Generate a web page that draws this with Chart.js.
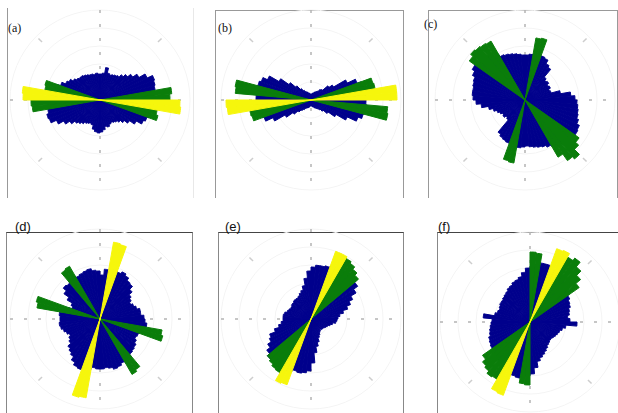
<!DOCTYPE html>
<html>
<head>
<meta charset="utf-8">
<script src="https://cdn.jsdelivr.net/npm/chart.js@4.4.1/dist/chart.umd.min.js"></script>
<style>
  body { margin: 0; width: 618px; height: 413px; background: #fff; position: relative; overflow: hidden; }
  .frame { position: absolute; box-sizing: border-box; }
  .panel { position: absolute; }
  .tag { position: absolute; color: #111; line-height: 1; }
  .tag.top { font: 12px "Liberation Serif", serif; }
  .tag.bottom { font: 13px "Liberation Sans", Arial, sans-serif; }
</style>
</head>
<body>

<!-- panel frames (only the visible edges) -->
<div class="frame" style="left:7px;top:8px;width:187px;height:190px;border-left:1px solid #999;border-right:1px solid #e8e8e8;"></div>
<div class="frame" style="left:215px;top:10px;width:189px;height:188px;border:1px solid #999;border-bottom:none;"></div>
<div class="frame" style="left:428px;top:10px;width:190px;height:188px;border:1px solid #999;border-bottom:none;"></div>
<div class="frame" style="left:6px;top:232px;width:187px;height:190px;border:1px solid #888;border-top-color:#444;border-bottom:none;"></div>
<div class="frame" style="left:218px;top:232px;width:186px;height:190px;border:1px solid #888;border-top-color:#444;border-bottom:none;"></div>
<div class="frame" style="left:437px;top:232px;width:190px;height:190px;border:1px solid #888;border-top-color:#444;border-bottom:none;"></div>

<div class="tag top" style="left:8px;top:21px;">(a)</div>
<div class="tag top" style="left:218px;top:21px;">(b)</div>
<div class="tag top" style="left:424px;top:17px;">(c)</div>
<div class="tag bottom" style="left:15px;top:219px;">(d)</div>
<div class="tag bottom" style="left:225px;top:219px;">(e)</div>
<div class="tag bottom" style="left:438px;top:219px;">(f)</div>

<script>
// ========== Rose diagrams (a)-(f) ==========

// 5 degree bins, azimuth of bin start, clockwise from north
const binStarts = [0,5,10,15,20,25,30,35,40,45,50,55,60,65,70,75,80,85,90,95,100,105,110,115,120,125,130,135,140,145,150,155,160,165,170,175,
  180,185,190,195,200,205,210,215,220,225,230,235,240,245,250,255,260,265,270,275,280,285,290,295,300,305,310,315,320,325,330,335,340,345,350,355];

// outer ring value
const rMax = 90;

// blue histograms (0..175 then 180..355)
const blueA = [26,27,33,28,27,28,29,30,33,36,40,45,52,58,57,56,55,54,54,53,52,52,50,48,42,36,32,29,27,26,25,26,28,27,30,32,
  33,32,30,26,25,26,27,29,31,33,37,42,48,54,55,53,52,51,50,50,48,46,42,38,36,33,31,30,30,29,28,27,27,26,27,26];
const blueB = [6,6,7,7,8,9,10,11,14,15,22,26,40,49,53,54,55,55,55,56,55,54,50,40,29,21,16,13,11,10,9,8,7,7,6,6,
  6,6,7,8,8,9,10,12,14,17,22,30,42,50,52,54,55,54,55,55,56,55,53,48,37,27,20,15,12,10,9,8,7,7,6,6];
const blueC = [45,46,47,46,47,46,42,40,30,28,29,27,28,26,27,36,46,50,52,53,54,55,57,60,61,62,60,59,57,54,52,50,49,48,47,46,
  47,48,47,46,46,45,44,42,26,25,27,26,28,30,33,37,44,49,52,53,53,54,55,58,61,62,60,58,56,53,50,49,48,47,46,45];
const blueD = [44,50,49,51,50,52,50,47,46,42,38,36,34,36,38,41,41,44,45,47,44,42,41,40,42,44,45,46,49,51,49,51,52,50,49,50,
  50,49,51,52,54,53,50,46,44,42,38,36,34,36,38,40,41,40,40,41,38,34,30,32,38,44,48,47,49,50,48,49,50,51,49,48];
const blueE = [52,54,54,55,56,57,58,59,60,59,57,52,46,42,38,33,29,27,26,25,22,20,18,17,16,15,15,14,15,16,18,20,24,28,34,44,
  52,54,55,54,56,57,58,59,58,57,54,50,46,44,38,33,30,28,28,28,27,25,24,23,23,24,24,25,25,25,26,28,30,34,41,48];
const blueF = [56,58,60,60,58,57,56,54,52,50,48,46,44,43,41,40,38,40,47,36,33,31,30,29,28,27,27,28,29,31,33,35,37,40,46,52,
  54,56,57,56,54,52,51,50,49,48,47,46,45,44,42,41,40,39,38,47,36,34,33,34,35,35,36,37,38,40,41,43,44,46,50,54];

// green and yellow wedges: [bin start, value]
const greenA = [[80,72],[85,70],[100,58],[105,60],[260,68],[265,69],[280,56],[285,57]];
const yellowA = [[90,80],[95,81],[270,77],[275,78]];
const greenB = [[70,64],[75,65],[95,77],[100,78],[250,61],[255,62],[275,76],[280,77]];
const yellowB = [[80,86],[85,86],[260,84],[265,85]];
const greenC = [[10,63],[15,64],[125,66],[130,70],[135,77],[140,74],[145,66],[190,64],[195,63],[305,68],[310,71],[315,70],[320,69],[325,68]];
const yellowC = [];
const greenD = [[100,63],[105,65],[140,62],[145,64],[280,64],[285,66],[320,60],[325,61]];
const yellowD = [[10,78],[15,77],[190,80],[195,81]];
const greenE = [[30,70],[35,68],[40,65],[45,62],[210,62],[215,61],[220,59],[225,57]];
const yellowE = [[20,72],[25,72],[200,70],[205,71]];
const greenF = [[0,70],[5,69],[30,75],[35,78],[40,72],[45,66],[50,60],[180,63],[185,62],[210,66],[215,67],[220,64],[225,62],[230,58]];
const yellowF = [[20,78],[25,79],[200,78],[205,77]];

const BLUE = '#00008c';
const GREEN = '#0a7d0a';
const YELLOW = '#f6f60c';

// panel centres on the page
const panels = [
  { cx: 100, cy: 100, blue: blueA, green: greenA, yellow: yellowA },
  { cx: 311, cy: 100, blue: blueB, green: greenB, yellow: yellowB },
  { cx: 525, cy: 100, blue: blueC, green: greenC, yellow: yellowC },
  { cx: 100, cy: 319, blue: blueD, green: greenD, yellow: yellowD },
  { cx: 311, cy: 319, blue: blueE, green: greenE, yellow: yellowE },
  { cx: 530, cy: 322, blue: blueF, green: greenF, yellow: yellowF }
];

// sparse wedge list -> full bin array
function wedgeData(list) {
  const out = binStarts.map(() => 0);
  list.forEach(([az, v]) => { out[binStarts.indexOf(az)] = v; });
  return out;
}

// a thin border in the fill colour closes the seams between neighbouring bins
function rosePart(label, data, color) {
  return {
    label: label,
    data: data,
    backgroundColor: color,
    borderColor: color,
    borderWidth: c => (c.raw > 0 ? 1 : 0)
  };
}

// dotted N-S / E-W spokes and small diagonal marks near the rim
const roseGuides = {
  id: 'roseGuides',
  beforeDatasetsDraw(chart) {
    const s = chart.scales.r;
    const ctx = chart.ctx;
    const cx = s.xCenter, cy = s.yCenter, R = s.drawingArea;
    ctx.save();
    ctx.strokeStyle = '#b4b4b4';
    ctx.lineWidth = 1.5;
    ctx.setLineDash([3, 11]);
    ctx.beginPath();
    ctx.moveTo(cx, cy - R); ctx.lineTo(cx, cy + R);
    ctx.moveTo(cx - R, cy); ctx.lineTo(cx + R, cy);
    ctx.stroke();
    ctx.setLineDash([]);
    ctx.strokeStyle = '#cdcdcd';
    ctx.lineWidth = 1.5;
    [45, 135, 225, 315].forEach(a => {
      const t = a * Math.PI / 180;
      ctx.beginPath();
      ctx.moveTo(cx + Math.sin(t) * (R - 8), cy - Math.cos(t) * (R - 8));
      ctx.lineTo(cx + Math.sin(t) * (R - 3), cy - Math.cos(t) * (R - 3));
      ctx.stroke();
    });
    ctx.restore();
  }
};

let chartInstances = [];

panels.forEach((p, i) => {
  const box = document.createElement('div');
  box.className = 'panel';
  box.style.left = (p.cx - 100) + 'px';
  box.style.top = (p.cy - 100) + 'px';
  const canvas = document.createElement('canvas');
  canvas.width = 200;
  canvas.height = 200;
  box.appendChild(canvas);
  document.body.appendChild(box);

  chartInstances[i] = new Chart(canvas, {
    type: 'polarArea',
    data: {
      labels: binStarts,
      datasets: [
        rosePart('yellow', wedgeData(p.yellow), YELLOW),
        rosePart('green', wedgeData(p.green), GREEN),
        rosePart('blue', p.blue, BLUE)
      ]
    },
    options: {
      responsive: false,
      animation: false,
      layout: { padding: 10 },
      plugins: {
        legend: { display: false },
        tooltip: { enabled: false }
      },
      scales: {
        r: {
          min: 0,
          max: rMax,
          ticks: { display: false, stepSize: 18 },
          grid: { color: '#f4f4f4' },
          angleLines: { display: false },
          pointLabels: { display: false }
        }
      }
    },
    plugins: [roseGuides]
  });
});
</script>
</body>
</html>
